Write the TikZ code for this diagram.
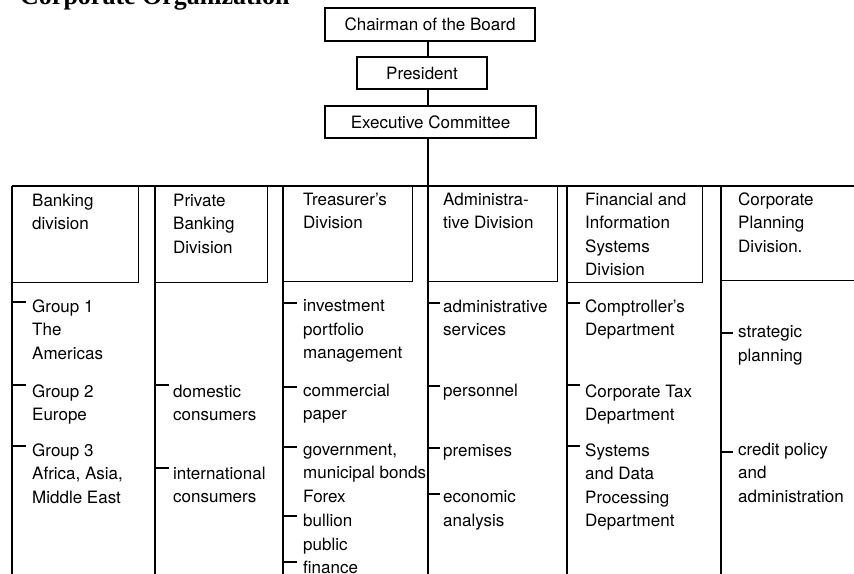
\documentclass[tikz,border=0pt]{standalone}
\usepackage{fontspec}
\setmainfont{TeX Gyre Heros}
\newfontfamily\titlefont{Liberation Serif}
\begin{document}
\begin{tikzpicture}[x=1pt,y=-1pt,
  rule/.style={line width=1.2pt,black},
  topbox/.style={draw,rule,rectangle,inner sep=0pt,
    font=\fontsize{17}{23.5}\selectfont},
  divbox/.style={draw,rule,rectangle,anchor=north west,inner sep=0pt},
  % text placed by the baseline of its first line
  txt/.style={anchor=north west,yshift=12.5pt,align=left,inner sep=0pt,
    font=\fontsize{17}{23.5}\selectfont,
    execute at begin node=\rule{0pt}{12.5pt}},
  tick/.style={rule}]
\useasboundingbox (0,0) rectangle (854,573);
\clip (0,0) rectangle (854,573);
\fill[white] (0,0) rectangle (854,573);

% heading
\node[anchor=base west,inner sep=0pt,font=\titlefont\bfseries\fontsize{26}{26}\selectfont]
  (title) at (20,4) {Corporate Organization};

% top of the hierarchy
\node[topbox,minimum width=210pt,minimum height=33pt] (chair) at (430,24.5) {Chairman of the Board};
\node[topbox,minimum width=130pt,minimum height=32pt] (pres)  at (422,73)   {President};
\node[topbox,minimum width=211pt,minimum height=32pt] (exec)  at (430.5,122) {Executive Committee};
\coordinate (bus) at (428,186);
\draw[rule] (chair.south -| bus) -- (pres.north -| bus);
\draw[rule] (pres.south -| bus) -- (exec.north -| bus);
\draw[rule] (exec.south -| bus) -- (bus);

% division boxes
\node[divbox,minimum width=126pt,minimum height=96pt] (d1) at (12,186) {};
\node[divbox,minimum width=112pt,minimum height=96pt] (d2) at (155,186) {};
\node[divbox,minimum width=129pt,minimum height=95pt] (d3) at (283,186) {};
\node[divbox,minimum width=129pt,minimum height=95pt] (d4) at (428,186) {};
\node[divbox,minimum width=135pt,minimum height=96pt] (d5) at (567,186) {};
\node[divbox,minimum width=150pt,minimum height=94pt] (d6) at (721,186) {};
\draw[rule] (d1.north west) -- (d6.north east);

% column spines
\coordinate (bottom) at (0,576);
\foreach \d in {d1,d2,d3,d4,d5,d6}
  \draw[rule] (\d.north west) -- (\d.north west |- bottom);

% division names
\node[txt] (t1) at (32,206)  {Banking\\division};
\node[txt] (t2) at (173,206) {Private\\Banking\\Division};
\node[txt] (t3) at (303,205) {Treasurer's\\Division};
\node[txt] (t4) at (443,205) {Administra-\\tive Division};
\node[txt] (t5) at (585,205) {Financial and\\Information\\Systems\\Division};
\node[txt] (t6) at (738,205) {Corporate\\Planning\\Division.};

% Banking division
\node[txt] (g1) at (32,312) {Group 1\\The\\Americas};
\node[txt] (g2) at (32,397) {Group 2\\Europe};
\node[txt] (g3) at (32,456) {Group 3\\Africa, Asia,\\Middle East};
\draw[tick] (d1.north west |- 0,302) -- ++(14,0);
\draw[tick] (d1.north west |- 0,385) -- ++(14,0);
\draw[tick] (d1.north west |- 0,446) -- ++(14,0);

% Private Banking Division
\node[txt] (p1) at (173,397) {domestic\\consumers};
\node[txt] (p2) at (173,479) {international\\consumers};
\draw[tick] (d2.north west |- 0,385) -- ++(14,0);
\draw[tick] (d2.north west |- 0,468) -- ++(14,0);

% Treasurer's Division
\node[txt] (r1) at (303,312) {investment\\portfolio\\management};
\node[txt] (r2) at (303,396) {commercial\\paper};
\node[txt] (r3) at (303,456) {government,\\municipal bonds\\Forex};
\node[txt] (r4) at (303,526.5) {bullion\\public};
\node[txt] (r5) at (303,573.5) {finance};
\draw[tick] (d3.north west |- 0,303) -- ++(14,0);
\draw[tick] (d3.north west |- 0,387) -- ++(14,0);
\draw[tick] (d3.north west |- 0,447) -- ++(14,0);
\draw[tick] (d3.north west |- 0,516) -- ++(14,0);
\draw[tick] (d3.north west |- 0,562) -- ++(14,0);

% Administrative Division
\node[txt] (a1) at (443,312) {administrative\\services};
\node[txt] (a2) at (443,396) {personnel};
\node[txt] (a3) at (443,456) {premises};
\node[txt] (a4) at (443,503) {economic\\analysis};
\draw[tick] (d4.north west |- 0,303) -- ++(12,0);
\draw[tick] (d4.north west |- 0,386) -- ++(12,0);
\draw[tick] (d4.north west |- 0,448) -- ++(12,0);
\draw[tick] (d4.north west |- 0,494) -- ++(12,0);

% Financial and Information Systems Division
\node[txt] (f1) at (585,312) {Comptroller's\\Department};
\node[txt] (f2) at (585,397) {Corporate Tax\\Department};
\node[txt] (f3) at (585,456) {Systems\\and Data\\Processing\\Department};
\draw[tick] (d5.north west |- 0,303) -- ++(13,0);
\draw[tick] (d5.north west |- 0,385) -- ++(13,0);
\draw[tick] (d5.north west |- 0,446) -- ++(13,0);

% Corporate Planning Division
\node[txt] (c1) at (738,338) {strategic\\planning};
\node[txt] (c2) at (738,455) {credit policy\\and\\administration};
\draw[tick] (d6.north west |- 0,333) -- ++(12,0);
\draw[tick] (d6.north west |- 0,452) -- ++(12,0);
\end{tikzpicture}
\end{document}
